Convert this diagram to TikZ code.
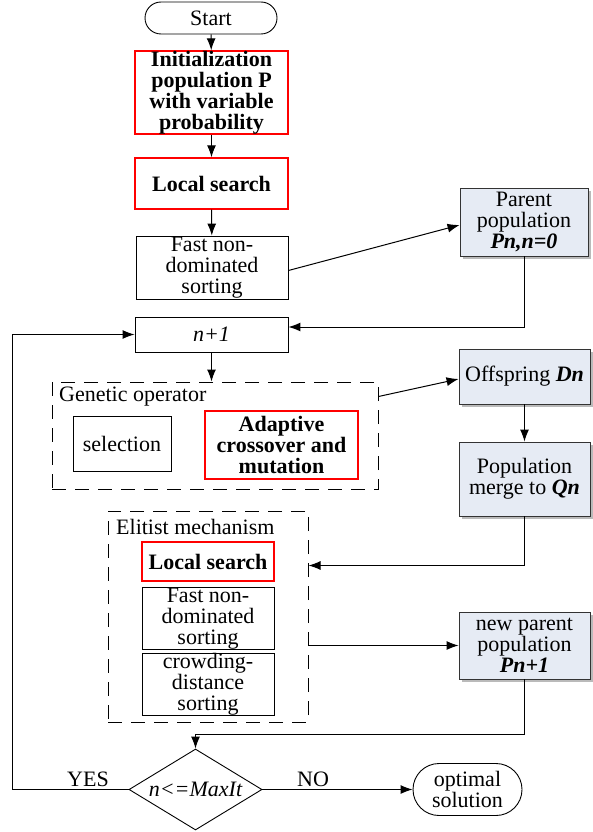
\documentclass[tikz,border=0pt]{standalone}
\usepackage{fontspec}
\setmainfont{Liberation Serif}
\usetikzlibrary{arrows.meta,shapes.geometric,shadows}
\definecolor{boxblue}{HTML}{E6EBF4}
\definecolor{myred}{HTML}{FF0000}
\begin{document}
\begin{tikzpicture}[x=1pt,y=-1pt,
  every node/.style={font=\fontsize{22pt}{21pt}\selectfont, inner sep=0pt, align=center},
  plain/.style={draw=black, line width=0.9pt, rectangle},
  redbox/.style={draw=myred, line width=1.4pt, rectangle, font=\fontsize{22pt}{21pt}\selectfont\bfseries},
  bluebox/.style={draw=black!80, line width=0.9pt, rectangle, fill=boxblue,
    drop shadow={shadow xshift=2.5pt, shadow yshift=-2.5pt, fill=black!45, opacity=0.6}},
  dashbox/.style={draw=black, line width=1pt, rectangle, dash pattern=on 14pt off 9pt},
  term/.style={draw=black, line width=0.9pt, rectangle, rounded corners=16pt},
  arr/.style={line width=1pt, -{Latex[length=12pt,width=9pt]}},
  ln/.style={line width=1pt}]
\useasboundingbox (0,0) rectangle (592,832);

% main column
\node[term, minimum width=132pt, minimum height=32pt] (start) at (211,18) {Start};
\node[redbox, minimum width=153pt, minimum height=81pt] (init) at (211.5,92.5)
  {Initialization\\population P\\with variable\\probability};
\node[redbox, minimum width=153pt, minimum height=51pt] (ls1) at (211.5,183.5) {Local search};
\node[plain, minimum width=152pt, minimum height=63pt] (fnd1) at (212,267.5)
  {Fast non-\\dominated\\sorting};
\node[plain, minimum width=153pt, minimum height=35pt] (n1) at (211.5,334.5) {\itshape n+1};

% genetic operator
\node[dashbox, minimum width=326pt, minimum height=107pt] (gen) at (215,435.5) {};
\node[anchor=west] (genlab) at (59,397) {Genetic operator};
\node[plain, minimum width=98pt, minimum height=55pt] (sel) at (122,443.5) {selection};
\node[redbox, minimum width=153pt, minimum height=68pt] (ada) at (281.5,445)
  {Adaptive\\crossover and\\mutation};

% elitist mechanism
\node[dashbox, minimum width=200pt, minimum height=211pt] (elit) at (208,616.5) {};
\node[anchor=west] (elitlab) at (116,527) {Elitist mechanism};
\node[redbox, minimum width=132pt, minimum height=39pt] (ls2) at (208,561.5) {Local search};
\node[plain, minimum width=132pt, minimum height=55pt] (fnd2) at (208,618.5)
  {Fast non-\\dominated\\sorting};
\node[plain, minimum width=132pt, minimum height=56pt] (cd) at (208,684)
  {crowding-\\distance\\sorting};

% right column
\node[bluebox, minimum width=128pt, minimum height=68pt] (parent) at (524,222)
  {Parent\\population\\\textbf{\textit{Pn,n=0}}};
\node[bluebox, minimum width=131pt, minimum height=55pt] (off) at (524.5,376.5)
  {Offspring \textbf{\textit{Dn}}};
\node[bluebox, minimum width=131pt, minimum height=74pt] (merge) at (524.5,479)
  {Population\\merge to \textbf{\textit{Qn}}};
\node[bluebox, minimum width=131pt, minimum height=67pt] (newp) at (524.5,645.5)
  {new parent\\population\\\textbf{\textit{Pn+1}}};

% decision and end
\node[draw=black, line width=0.9pt, diamond, shape aspect=1.64, minimum width=133pt, minimum height=81pt] (dia) at (195.5,789.5)
  {\itshape n<=MaxIt};
\node[term, rounded corners=26pt, minimum width=109pt, minimum height=52pt] (opt) at (467.5,789.5)
  {optimal\\solution};
\node (yes) at (88,779) {YES};
\node (no) at (313,779) {NO};
\coordinate (lft) at (12,789.5);

% connectors
\draw[arr] (start) -- (init);
\draw[arr] (init) -- (ls1);
\draw[arr] (ls1) -- (fnd1);
\draw[arr] ([yshift=-3pt]fnd1.east) -- ([yshift=-3pt]parent.west);
\draw[arr] (parent.south) |- ([yshift=7.5pt]n1.east);
\draw[arr] (n1.south) -- (n1.south |- gen.north);
\draw[arr] ([yshift=-15pt]gen.north east) -- ([yshift=-2.5pt]off.west);
\draw[arr] (off) -- (merge);
\draw[arr] (merge.south) |- ([yshift=-55pt]elit.north east);
\draw[arr] (elit.east |- newp.west) -- (newp.west);
\draw[arr] (newp.south) |- ([yshift=14pt]dia.north) -- (dia.north);
\draw[arr] (dia.west) -- (lft) |- (n1.west);
\draw[arr] (dia.east) -- (opt.west);
\end{tikzpicture}
\end{document}
